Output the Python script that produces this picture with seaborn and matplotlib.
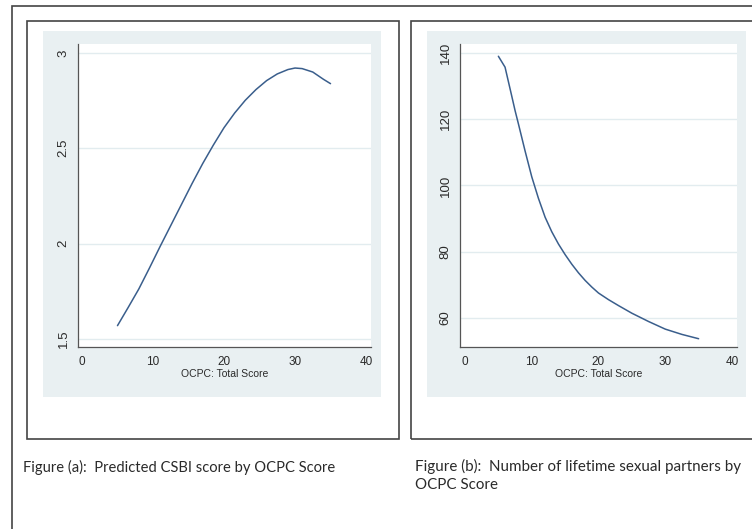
import matplotlib
matplotlib.use("Agg")
import matplotlib.pyplot as plt
from matplotlib import font_manager
import seaborn as sns
import pandas as pd
from matplotlib.patches import Rectangle

# Data
csbi_x = [5, 6.5, 8, 9.5, 11, 12.5, 14, 15.5, 17, 18.5, 20, 21.5, 23, 24.5,
          26, 27.5, 29, 30, 31, 32.5, 34, 35]
csbi_y = [1.570, 1.665, 1.762, 1.872, 1.985, 2.095, 2.205, 2.315, 2.420, 2.517,
          2.608, 2.685, 2.752, 2.808, 2.855, 2.890, 2.913, 2.921, 2.918, 2.900,
          2.862, 2.839]

partners_x = [5, 6, 7, 7.5, 8, 9, 10, 11, 12, 13, 14, 15, 16, 17, 18, 19, 20,
              21.5, 23, 25, 27.5, 30, 32.5, 35]
partners_y = [139.0, 135.7, 127.0, 122.6, 118.6, 110.4, 102.6, 96.1, 90.4, 86.0,
              82.3, 79.1, 76.2, 73.6, 71.3, 69.3, 67.5, 65.5, 63.7, 61.4, 58.9,
              56.6, 55.0, 53.7]

xticks = [0, 10, 20, 30, 40]
yticks_a = [1.5, 2, 2.5, 3]
yticks_b = [60, 80, 100, 120, 140]
ytick_labels_a = ["1.5", "2", "2.5", "3"]
ytick_labels_b = ["60", "80", "100", "120", "140"]

x_label = "OCPC: Total Score"
caption_a = "Figure (a):  Predicted CSBI score by OCPC Score"
caption_b = "Figure (b):  Number of lifetime sexual partners by\nOCPC Score"

df_a = pd.DataFrame({"score": csbi_x, "value": csbi_y})
df_b = pd.DataFrame({"score": partners_x, "value": partners_y})

sns.set_style("white")

W, H = 752, 529
fig = plt.figure(figsize=(W / 100, H / 100), dpi=100)

region_col = "#E9F0F2"
grid_col = "#E2ECEF"
line_col = "#3A5E8C"
axis_col = "#555555"
border_col = "#444444"
text_col = "#2a2a2a"

# Stata output looks horizontally squeezed: use a narrow face when we have one
names = {f.name for f in font_manager.fontManager.ttflist}
if "Liberation Sans Narrow" in names:
    narrow, xt_size, xl_size = ["Liberation Sans Narrow", "DejaVu Sans"], 9, 8.5
else:
    narrow, xt_size, xl_size = ["Liberation Sans", "DejaVu Sans"], 8.5, 7.5
regular = ["Liberation Sans", "DejaVu Sans"]


def px_rect(x0, y0, x1, y1, **kw):
    r = Rectangle((x0 / W, 1 - y1 / H), (x1 - x0) / W, (y1 - y0) / H,
                  transform=fig.transFigure, zorder=-5, **kw)
    fig.patches.append(r)


def px_axes(x0, y0, x1, y1):
    return fig.add_axes([x0 / W, 1 - y1 / H, (x1 - x0) / W, (y1 - y0) / H])


# page borders
px_rect(12, 6, 760, 540, fill=False, edgecolor=border_col, lw=1.2)
px_rect(27, 21, 399, 439, fill=False, edgecolor=border_col, lw=1.2)
px_rect(411, 21, 760, 439, fill=False, edgecolor=border_col, lw=1.2)

# Stata graph regions
px_rect(43, 31, 381, 397, facecolor=region_col, edgecolor="none")
px_rect(427, 31, 746, 397, facecolor=region_col, edgecolor="none")


def style_axes(ax, xlim, ylim, yticks, ylabels):
    ax.set_facecolor("white")
    ax.set_xlim(*xlim)
    ax.set_ylim(*ylim)
    ax.set_xticks(xticks)
    ax.set_xticklabels([str(t) for t in xticks], family=narrow, fontsize=xt_size)
    ax.set_yticks(yticks)
    ax.set_yticklabels(ylabels, family=regular, fontsize=9.5,
                       rotation=90, va="center")
    for s in ["top", "right"]:
        ax.spines[s].set_visible(False)
    for s in ["left", "bottom"]:
        ax.spines[s].set_color(axis_col)
        ax.spines[s].set_linewidth(0.9)
    ax.tick_params(axis="both", length=3, width=0.8, color=axis_col,
                   labelcolor=text_col, direction="out")
    ax.tick_params(axis="x", pad=3.5)
    ax.tick_params(axis="y", pad=3)
    ax.grid(False)
    for t in yticks:
        ax.axhline(t, color=grid_col, lw=1.0, zorder=0)
    ax.set_xlabel(x_label, family=narrow, fontsize=xl_size, labelpad=0.5,
                  color=text_col)
    ax.set_ylabel("")


ax_a = px_axes(78, 44, 371, 347)
sns.lineplot(data=df_a, x="score", y="value", ax=ax_a, color=line_col, lw=1.1)
style_axes(ax_a, (-0.56, 40.7), (1.458, 3.047), yticks_a, ytick_labels_a)

ax_b = px_axes(460, 44, 737, 347)
sns.lineplot(data=df_b, x="score", y="value", ax=ax_b, color=line_col, lw=1.1)
style_axes(ax_b, (-0.75, 40.75), (51.2, 142.7), yticks_b, ytick_labels_b)

cap_font = ["Lato", "DejaVu Sans"]
fig.text(23 / W, 1 - 467 / H, caption_a, family=cap_font, fontsize=10.6,
         va="center", ha="left", color=text_col)
fig.text(415 / W, 1 - 459 / H, caption_b, family=cap_font, fontsize=10.9,
         va="top", ha="left", color=text_col, linespacing=1.35)

fig.savefig("out.png", dpi=100)
